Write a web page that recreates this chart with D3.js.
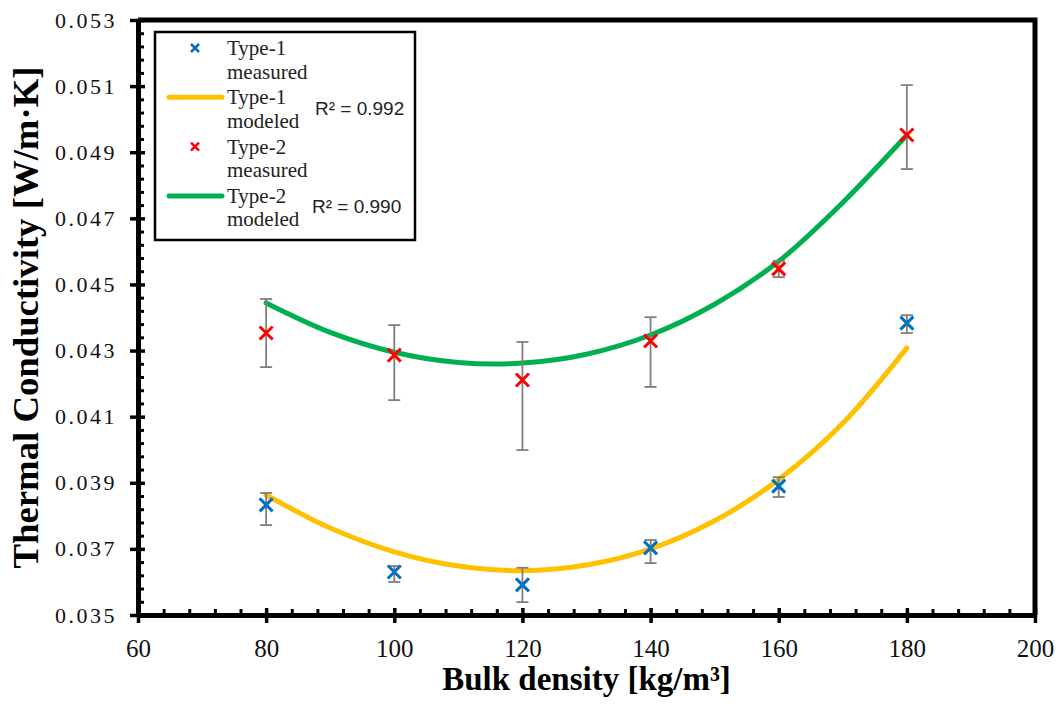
<!DOCTYPE html>
<html>
<head>
<meta charset="utf-8">
<script src="https://cdn.jsdelivr.net/npm/d3@7"></script>
<style>
  body { margin: 0; background: #fff; }
  svg { display: block; }
</style>
</head>
<body>
<script>
const width = 1059;
const height = 711;

// measured points
var density = [80, 100, 120, 140, 160, 180];
var type1Measured = [0.03833, 0.03630, 0.03591, 0.03703, 0.03890, 0.04383];
var type1ErrUp    = [0.00036, 0.00018, 0.00052, 0.00024, 0.00027, 0.00024];
var type1ErrDown  = [0.00061, 0.00030, 0.00052, 0.00046, 0.00033, 0.00030];
var type2Measured = [0.04353, 0.04286, 0.04211, 0.04329, 0.04547, 0.04952];
var type2ErrUp    = [0.00103, 0.00091, 0.00115, 0.00072, 0.00024, 0.00151];
var type2ErrDown  = [0.00103, 0.00136, 0.00212, 0.00139, 0.00025, 0.00103];

// modeled curves
var modelDensity = [80, 90, 100, 110, 120, 130, 140, 150, 160, 170, 180];
var type1Modeled = [0.03863, 0.03763, 0.03691, 0.03648, 0.03634, 0.03651, 0.03700, 0.03785, 0.03910, 0.04080, 0.04308];
var type2Modeled = [0.04444, 0.04355, 0.04295, 0.04264, 0.04262, 0.04289, 0.04347, 0.04440, 0.04570, 0.04748, 0.04952];

var xTicks = [60, 80, 100, 120, 140, 160, 180, 200];
var yTicks = [0.035, 0.037, 0.039, 0.041, 0.043, 0.045, 0.047, 0.049, 0.051, 0.053];
var legendLabels = [["Type-1", "measured"], ["Type-1", "modeled"], ["Type-2", "measured"], ["Type-2", "modeled"]];
var r2Labels = ["R\u00B2 = 0.992", "R\u00B2 = 0.990"];

// plot box (note: "top" is reserved on window)
var pLeft = 138, pRight = 1035, pTop = 20, pBottom = 615;

var svg = d3.select("body")
  .append("svg")
  .attr("width", width)
  .attr("height", height);

var xscale = d3.scaleLinear().domain([60, 200]).range([pLeft, pRight]);
var yscale = d3.scaleLinear().domain([0.035, 0.053]).range([pBottom, pTop]);

// minor ticks (inside), 5 per major step
var xMinor = d3.range(0, 36).map(i => 60 + i * 4).filter((d, i) => i % 5 !== 0);
var yMinor = d3.range(0, 46).map(i => 0.035 + i * 0.0004).filter((d, i) => i % 5 !== 0);

svg.append("g")
  .attr("transform", "translate(0," + pBottom + ")")
  .call(d3.axisTop(xscale).tickValues(xMinor).tickSize(6).tickFormat(""))
  .call(g => g.select(".domain").remove())
  .selectAll("line").attr("stroke-width", 3);

svg.append("g")
  .attr("transform", "translate(" + pLeft + ",0)")
  .call(d3.axisRight(yscale).tickValues(yMinor).tickSize(6).tickFormat(""))
  .call(g => g.select(".domain").remove())
  .selectAll("line").attr("stroke-width", 3);

// frame top and right
svg.append("path")
  .attr("d", "M" + pLeft + "," + pTop + "H" + pRight + "V" + pBottom)
  .attr("fill", "none")
  .attr("stroke", "#000")
  .attr("stroke-width", 5);

// x axis
var xAxis = svg.append("g")
  .attr("transform", "translate(0," + pBottom + ")")
  .call(d3.axisBottom(xscale).tickValues(xTicks).tickSize(8).tickSizeOuter(0).tickFormat(d3.format("d")));
xAxis.select(".domain").attr("stroke-width", 5);
xAxis.selectAll(".tick line").attr("y1", -7).attr("stroke-width", 3.5);
xAxis.selectAll(".tick text")
  .attr("y", 42).attr("dy", 0)
  .attr("font-family", "'Liberation Serif', 'Times New Roman', serif")
  .attr("font-size", 25)
  .attr("fill", "#111");

// y axis
var yAxis = svg.append("g")
  .attr("transform", "translate(" + pLeft + ",0)")
  .call(d3.axisLeft(yscale).tickValues(yTicks).tickSize(8).tickSizeOuter(0).tickPadding(13).tickFormat(d3.format(".3f")));
yAxis.select(".domain").attr("stroke-width", 5);
yAxis.selectAll(".tick line").attr("x1", 7).attr("stroke-width", 3.5);
yAxis.selectAll(".tick text")
  .attr("font-family", "'Liberation Serif', 'Times New Roman', serif")
  .attr("font-size", 22)
  .attr("letter-spacing", 2.5)
  .attr("fill", "#111");

// axis titles
svg.append("text")
  .attr("x", (pLeft + pRight) / 2)
  .attr("y", 690)
  .attr("text-anchor", "middle")
  .attr("font-family", "'Liberation Serif', 'Times New Roman', serif")
  .attr("font-weight", "bold")
  .attr("font-size", 33)
  .text("Bulk density [kg/m\u00B3]");

svg.append("text")
  .attr("transform", "translate(38," + ((pTop + pBottom) / 2) + ") rotate(-90)")
  .attr("text-anchor", "middle")
  .attr("font-family", "'Liberation Serif', 'Times New Roman', serif")
  .attr("font-weight", "bold")
  .attr("font-size", 36)
  .attr("textLength", 502)
  .attr("lengthAdjust", "spacingAndGlyphs")
  .text("Thermal Conductivity [W/m\u00B7K]");

// modeled lines
var line = d3.line()
  .x(d => xscale(d[0]))
  .y(d => yscale(d[1]))
  .curve(d3.curveCatmullRom);

svg.append("path")
  .datum(d3.zip(modelDensity, type1Modeled))
  .attr("d", line)
  .attr("fill", "none")
  .attr("stroke", "#FFC000")
  .attr("stroke-width", 5)
  .attr("stroke-linecap", "round");

svg.append("path")
  .datum(d3.zip(modelDensity, type2Modeled))
  .attr("d", line)
  .attr("fill", "none")
  .attr("stroke", "#00B050")
  .attr("stroke-width", 5)
  .attr("stroke-linecap", "round");

// error bars and markers
function drawSeries(values, up, down, color) {
  var g = svg.append("g");
  var pts = density.map((d, i) => ({ x: d, y: values[i], hi: values[i] + up[i], lo: values[i] - down[i] }));
  var eb = g.selectAll(".eb").data(pts).enter().append("g").attr("stroke", "#7f7f7f").attr("stroke-width", 1.8);
  eb.append("line")
    .attr("x1", d => xscale(d.x)).attr("x2", d => xscale(d.x))
    .attr("y1", d => yscale(d.hi)).attr("y2", d => yscale(d.lo));
  eb.append("line")
    .attr("x1", d => xscale(d.x) - 6).attr("x2", d => xscale(d.x) + 6)
    .attr("y1", d => yscale(d.hi)).attr("y2", d => yscale(d.hi));
  eb.append("line")
    .attr("x1", d => xscale(d.x) - 6).attr("x2", d => xscale(d.x) + 6)
    .attr("y1", d => yscale(d.lo)).attr("y2", d => yscale(d.lo));
  g.selectAll(".mk").data(pts).enter().append("path")
    .attr("d", d => {
      var cx = xscale(d.x), cy = yscale(d.y), s = 6.5;
      return "M" + (cx - s) + "," + (cy - s) + "L" + (cx + s) + "," + (cy + s) +
             "M" + (cx - s) + "," + (cy + s) + "L" + (cx + s) + "," + (cy - s);
    })
    .attr("stroke", color)
    .attr("stroke-width", 3);
}
drawSeries(type1Measured, type1ErrUp, type1ErrDown, "#0070C0");
drawSeries(type2Measured, type2ErrUp, type2ErrDown, "#FF0000");

// legend
var legend = svg.append("g");
legend.append("rect")
  .attr("x", 155).attr("y", 32).attr("width", 260).attr("height", 208)
  .attr("fill", "#fff").attr("stroke", "#000").attr("stroke-width", 2.5);

var legendColors = ["#0070C0", "#FFC000", "#FF0000", "#00B050"];
legendLabels.forEach(function(lab, i) {
  var y0 = 55 + i * 49.3;
  if (i % 2 === 0) {
    var cy = y0 - 7, cx = 195, s = 4;
    legend.append("path")
      .attr("d", "M" + (cx - s) + "," + (cy - s) + "L" + (cx + s) + "," + (cy + s) +
                 "M" + (cx - s) + "," + (cy + s) + "L" + (cx + s) + "," + (cy - s))
      .attr("stroke", legendColors[i]).attr("stroke-width", 2.5);
  } else {
    legend.append("line")
      .attr("x1", 169).attr("x2", 222)
      .attr("y1", y0 - 7).attr("y2", y0 - 7)
      .attr("stroke", legendColors[i]).attr("stroke-width", 5)
      .attr("stroke-linecap", "round");
  }
  var t = legend.append("text")
    .attr("x", 227).attr("y", y0)
    .attr("font-family", "'Liberation Serif', 'Times New Roman', serif")
    .attr("font-size", 21)
    .attr("fill", "#222");
  t.append("tspan").attr("x", 227).text(lab[0]);
  t.append("tspan").attr("x", 227).attr("dy", 23.5).text(lab[1]);
});

r2Labels.forEach(function(r, i) {
  legend.append("text")
    .attr("x", i === 0 ? 315 : 312)
    .attr("y", i === 0 ? 115 : 213)
    .attr("font-family", "'Liberation Sans', Arial, sans-serif")
    .attr("font-size", 19)
    .attr("fill", "#222")
    .text(r);
});
</script>
</body>
</html>
